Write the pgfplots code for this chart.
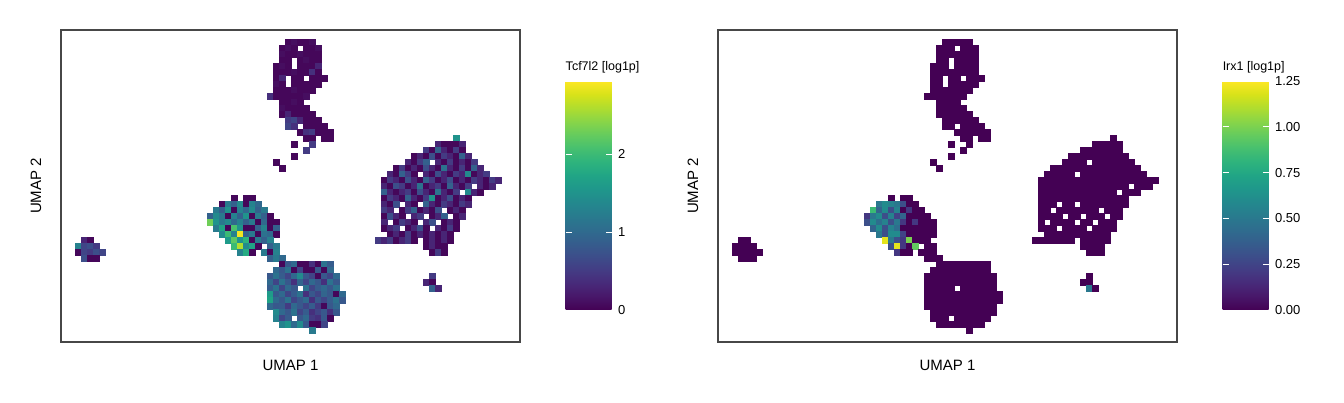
\documentclass[border=0pt]{standalone}
\usepackage{pgfplots}
\pgfplotsset{compat=1.18}
\usepackage{pgfplotstable}
\usepackage{fontspec}
\setmainfont{Liberation Sans}

\pgfplotstableread[row sep=\\]{
x y a b \\
288 42 .05 0 \\ 294 42 .1 0 \\ 300 42 .05 0 \\ 306 42 .05 0 \\ 312 42 .1 0 \\
282 48 .05 0 \\ 288 48 .1 0 \\ 294 48 .05 0 \\ 306 48 .05 0 \\ 312 48 .05 0 \\ 318 48 .1 0 \\
282 54 .1 0 \\ 288 54 .05 0 \\ 294 54 .05 0 \\ 300 54 .1 0 \\ 306 54 .05 0 \\ 312 54 .05 0 \\ 318 54 .05 0 \\
282 60 .05 0 \\ 288 60 .05 0 \\ 300 60 .05 0 \\ 306 60 .1 0 \\ 312 60 .05 0 \\ 318 60 .05 0 \\
276 66 .05 0 \\ 282 66 .1 0 \\ 288 66 .05 0 \\ 300 66 .05 0 \\ 306 66 .05 0 \\ 312 66 .05 0 \\ 318 66 .3 0 \\
276 72 .05 0 \\ 282 72 .05 0 \\ 288 72 .05 0 \\ 294 72 .1 0 \\ 300 72 .05 0 \\ 306 72 .05 0 \\ 312 72 .4 0 \\ 318 72 .05 0 \\
276 78 .05 0 \\ 282 78 .3 0 \\ 294 78 .05 0 \\ 300 78 .05 0 \\ 312 78 .05 0 \\ 318 78 .05 0 \\ 324 78 .05 0 \\
276 84 .1 0 \\ 282 84 .05 0 \\ 294 84 .05 0 \\ 300 84 .05 0 \\ 306 84 .05 0 \\ 312 84 .05 0 \\ 318 84 .05 0 \\
276 90 .05 0 \\ 282 90 .05 0 \\ 288 90 .05 0 \\ 294 90 .1 0 \\ 300 90 .05 0 \\ 306 90 .05 0 \\ 312 90 .05 0 \\
270 96 .4 0 \\ 276 96 .05 0 \\ 282 96 .05 0 \\ 288 96 .05 0 \\ 294 96 .05 0 \\ 300 96 .05 0 \\ 306 96 .1 0 \\
282 102 .05 0 \\ 288 102 .05 0 \\ 294 102 .1 0 \\ 300 102 .05 0 \\
282 108 .1 0 \\ 288 108 .05 0 \\ 294 108 .05 0 \\ 300 108 .05 0 \\ 306 108 .05 0 \\
282 114 .05 0 \\ 288 114 .3 0 \\ 294 114 .05 0 \\ 300 114 .05 0 \\ 306 114 .05 0 \\ 312 114 .05 0 \\
288 120 .5 0 \\ 294 120 .6 0 \\ 300 120 .3 0 \\ 306 120 .05 0 \\ 312 120 .05 0 \\ 318 120 .05 0 \\
288 126 .6 0 \\ 294 126 .4 0 \\ 306 126 .05 0 \\ 312 126 .05 0 \\ 318 126 .05 0 \\ 324 126 .05 0 \\
300 132 .05 0 \\ 306 132 .4 0 \\ 312 132 .5 0 \\ 318 132 .05 0 \\ 324 132 .05 0 \\ 330 132 .05 0 \\
306 138 .05 0 \\ 312 138 .05 0 \\ 324 138 .05 0 \\ 330 138 .05 0 \\
294 144 .05 0 \\ 312 144 .5 0 \\ 306 150 .5 0 \\ 294 156 .05 0 \\ 276 162 .05 0 \\ 282 168 .05 0 \\
456 138 1.5 0 \\
438 144 .3 0 \\ 444 144 .05 0 \\ 450 144 .05 0 \\ 456 144 .05 0 \\ 462 144 .3 0 \\
426 150 .5 0 \\ 432 150 .05 0 \\ 438 150 .9 0 \\ 444 150 .3 0 \\ 450 150 .05 0 \\ 456 150 .5 0 \\ 462 150 .05 0 \\
414 156 .05 0 \\ 420 156 .3 0 \\ 426 156 .05 0 \\ 432 156 .7 0 \\ 438 156 .05 0 \\ 444 156 .5 0 \\ 450 156 .3 0 \\ 456 156 .05 0 \\ 462 156 .9 0 \\ 468 156 .3 0 \\
408 162 .3 0 \\ 414 162 .05 0 \\ 420 162 .5 0 \\ 426 162 .9 0 \\ 438 162 .3 0 \\ 444 162 .05 0 \\ 450 162 .5 0 \\ 456 162 .05 0 \\ 462 162 .3 0 \\ 468 162 .05 0 \\ 474 162 .5 0 \\
396 168 .05 0 \\ 402 168 .5 0 \\ 408 168 .05 0 \\ 414 168 .3 0 \\ 420 168 .05 0 \\ 426 168 .7 0 \\ 432 168 .3 0 \\ 438 168 .05 0 \\ 444 168 1.1 0 \\ 450 168 .3 0 \\ 456 168 .05 0 \\ 462 168 .5 0 \\ 468 168 .05 0 \\ 474 168 .9 0 \\ 480 168 .3 0 \\
390 174 .3 0 \\ 396 174 .05 0 \\ 402 174 .9 0 \\ 408 174 .5 0 \\ 414 174 .05 0 \\ 426 174 .3 0 \\ 432 174 .05 0 \\ 438 174 .7 0 \\ 444 174 .3 0 \\ 450 174 .05 0 \\ 456 174 .5 0 \\ 462 174 .3 0 \\ 468 174 1.4 0 \\ 474 174 .05 0 \\ 480 174 .3 0 \\ 486 174 .5 0 \\
384 180 .05 0 \\ 390 180 .5 0 \\ 396 180 .3 0 \\ 402 180 .05 0 \\ 408 180 .7 0 \\ 414 180 .3 0 \\ 420 180 .05 0 \\ 426 180 .9 0 \\ 432 180 .5 0 \\ 438 180 .05 0 \\ 444 180 .3 0 \\ 450 180 .7 0 \\ 456 180 .05 0 \\ 462 180 .3 0 \\ 468 180 .05 0 \\ 474 180 .5 0 \\ 480 180 .3 0 \\ 486 180 .05 0 \\ 492 180 .5 0 \\ 498 180 .3 0 \\
384 186 .3 0 \\ 390 186 .05 0 \\ 396 186 .7 0 \\ 402 186 .5 0 \\ 408 186 .05 0 \\ 414 186 .3 0 \\ 420 186 1.1 0 \\ 426 186 .05 0 \\ 432 186 .3 0 \\ 438 186 .5 0 \\ 444 186 .05 0 \\ 450 186 .9 0 \\ 456 186 .3 0 \\ 462 186 .05 0 \\ 468 186 .5 0 \\ 480 186 .3 0 \\ 486 186 .05 0 \\ 492 186 .3 0 \\
384 192 .9 0 \\ 390 192 .3 0 \\ 396 192 .05 0 \\ 402 192 .3 0 \\ 408 192 .5 0 \\ 414 192 .05 0 \\ 420 192 .7 0 \\ 426 192 .3 0 \\ 432 192 .05 0 \\ 438 192 1.1 0 \\ 444 192 .3 0 \\ 450 192 .05 0 \\ 456 192 .5 0 \\ 468 192 1.4 0 \\ 474 192 .3 0 \\ 480 192 .05 0 \\
384 198 .05 0 \\ 390 198 .5 0 \\ 396 198 .3 0 \\ 402 198 .05 0 \\ 408 198 .9 0 \\ 414 198 .3 0 \\ 420 198 .05 0 \\ 426 198 .5 0 \\ 432 198 1.5 0 \\ 438 198 .05 0 \\ 444 198 .3 0 \\ 450 198 .7 0 \\ 456 198 .05 0 \\ 462 198 .3 0 \\ 468 198 .05 0 \\
384 204 .3 0 \\ 390 204 .05 0 \\ 396 204 .7 0 \\ 408 204 .3 0 \\ 414 204 .05 0 \\ 426 204 .9 0 \\ 432 204 .3 0 \\ 438 204 .05 0 \\ 444 204 .5 0 \\ 450 204 .3 0 \\ 456 204 .05 0 \\ 462 204 .5 0 \\ 468 204 .3 0 \\
384 210 .5 0 \\ 390 210 .3 0 \\ 402 210 .05 0 \\ 408 210 .5 0 \\ 414 210 .9 0 \\ 420 210 .05 0 \\ 426 210 .3 0 \\ 432 210 .05 0 \\ 438 210 .7 0 \\ 450 210 .05 0 \\ 456 210 .3 0 \\ 462 210 .05 0 \\
384 216 .05 0 \\ 390 216 .7 0 \\ 396 216 .3 0 \\ 402 216 .05 0 \\ 414 216 .3 0 \\ 420 216 .5 0 \\ 432 216 .05 0 \\ 438 216 .3 0 \\ 444 216 .9 0 \\ 456 216 .05 0 \\ 462 216 .3 0 \\
384 222 .3 0 \\ 396 222 .05 0 \\ 402 222 .5 0 \\ 408 222 .3 0 \\ 414 222 .05 0 \\ 426 222 .3 0 \\ 432 222 .7 0 \\ 444 222 .05 0 \\ 450 222 .3 0 \\ 456 222 .05 0 \\
384 228 .05 0 \\ 390 228 .3 0 \\ 396 228 .5 0 \\ 408 228 .05 0 \\ 414 228 .3 0 \\ 420 228 .7 0 \\ 426 228 .05 0 \\ 438 228 .3 0 \\ 444 228 .05 0 \\ 450 228 .5 0 \\ 456 228 .05 0 \\
390 234 .05 0 \\ 396 234 .3 0 \\ 402 234 .05 0 \\ 408 234 .5 0 \\ 414 234 .05 0 \\ 420 234 .3 0 \\ 426 234 .05 0 \\ 432 234 .3 0 \\ 438 234 .05 0 \\ 444 234 .3 0 \\ 450 234 .05 0 \\
378 240 .5 0 \\ 384 240 .3 0 \\ 390 240 .5 0 \\ 396 240 .05 0 \\ 402 240 .3 0 \\ 408 240 .5 0 \\ 414 240 .05 0 \\ 426 240 .05 0 \\ 432 240 .3 0 \\ 438 240 .05 0 \\ 444 240 .3 0 \\ 450 240 .05 0 \\
426 246 .05 0 \\ 432 246 .3 0 \\ 438 246 .05 0 \\ 444 246 .05 0 \\
432 252 .05 0 \\ 438 252 .5 0 \\ 444 252 .05 0 \\
432 276 .5 0 \\ 426 282 .3 0 \\ 432 282 .05 0 \\ 432 288 .9 .5 \\ 438 288 .3 0 \\
234 198 .05 0 \\ 246 198 .05 0 \\ 252 198 .05 0 \\
222 204 .05 .5 \\ 228 204 1.2 .6 \\ 234 204 .9 .55 \\ 240 204 1.4 .5 \\ 246 204 .05 .3 \\ 252 204 1.3 0 \\ 258 204 1.0 0 \\
216 210 1.2 .85 \\ 222 210 .9 .4 \\ 228 210 1.5 .6 \\ 234 210 .05 .3 \\ 240 210 1.3 .55 \\ 246 210 1.0 0 \\ 252 210 1.4 .2 \\ 258 210 .9 0 \\ 264 210 1.2 0 \\
210 216 .9 .2 \\ 216 216 1.4 .5 \\ 222 216 1.2 .6 \\ 228 216 .05 .3 \\ 234 216 1.3 .55 \\ 240 216 .9 .25 \\ 246 216 1.5 .4 \\ 252 216 .05 0 \\ 258 216 1.2 0 \\ 264 216 .9 0 \\ 270 216 .05 0 \\
210 222 2.3 .3 \\ 216 222 1.5 .6 \\ 222 222 1.2 .45 \\ 228 222 1.4 .55 \\ 234 222 1.0 .3 \\ 240 222 1.3 .5 \\ 246 222 .9 .2 \\ 252 222 1.2 0 \\ 258 222 .05 .2 \\ 264 222 1.0 0 \\ 270 222 .05 0 \\ 276 222 .05 0 \\
216 228 1.2 .4 \\ 222 228 1.7 .6 \\ 228 228 .05 .3 \\ 234 228 2.1 .55 \\ 240 228 1.5 .45 \\ 246 228 .05 0 \\ 252 228 .05 0 \\ 258 228 .9 0 \\ 264 228 1.3 0 \\ 270 228 .05 0 \\ 276 228 .9 0 \\
222 234 1.4 .5 \\ 228 234 2.0 .3 \\ 234 234 1.3 .6 \\ 240 234 2.9 .6 \\ 246 234 .9 .25 \\ 252 234 1.2 0 \\ 258 234 .05 0 \\ 264 234 1.1 0 \\ 270 234 1.0 0 \\ 276 234 .05 0 \\
228 240 1.6 1.2 \\ 234 240 2.2 .5 \\ 240 240 1.5 .3 \\ 246 240 1.9 .2 \\ 252 240 .05 1.0 \\ 258 240 1.2 0 \\ 264 240 .9 0 \\ 270 240 1.3 0 \\
234 246 2.0 .3 \\ 240 246 2.6 1.2 \\ 246 246 1.4 .2 \\ 252 246 1.7 0 \\ 258 246 .05 .95 \\ 270 246 .9 0 \\ 276 246 1.2 0 \\
240 252 1.3 .2 \\ 246 252 1.8 0 \\ 252 252 .05 0 \\ 264 252 1.2 0 \\ 270 252 .05 0 \\ 276 252 1.3 0 \\
270 258 .9 0 \\ 276 258 1.2 0 \\ 282 258 1.0 0 \\
282 264 .05 0 \\ 288 264 .8 0 \\ 294 264 1.0 0 \\ 300 264 .05 0 \\ 306 264 .05 0 \\ 312 264 .4 0 \\ 318 264 .05 0 \\ 324 264 1.1 0 \\ 330 264 .85 0 \\
276 270 1.0 0 \\ 282 270 .8 0 \\ 288 270 1.1 0 \\ 294 270 .05 0 \\ 300 270 .6 0 \\ 306 270 .05 0 \\ 312 270 .05 0 \\ 318 270 .8 0 \\ 324 270 .05 0 \\ 330 270 1.0 0 \\
270 276 .8 0 \\ 276 276 1.1 0 \\ 282 276 .85 0 \\ 288 276 .6 0 \\ 294 276 1.0 0 \\ 300 276 1.4 0 \\ 306 276 .8 0 \\ 312 276 .6 0 \\ 318 276 .05 0 \\ 324 276 .8 0 \\ 330 276 .6 0 \\ 336 276 1.0 0 \\
270 282 1.0 0 \\ 276 282 .6 0 \\ 282 282 1.1 0 \\ 288 282 .8 0 \\ 294 282 .4 0 \\ 300 282 .95 0 \\ 306 282 .6 0 \\ 312 282 1.0 0 \\ 318 282 .8 0 \\ 324 282 .4 0 \\ 330 282 1.1 0 \\ 336 282 .8 0 \\
270 288 .85 0 \\ 276 288 1.1 0 \\ 282 288 .6 0 \\ 288 288 1.0 0 \\ 294 288 .8 0 \\ 306 288 1.1 0 \\ 312 288 .6 0 \\ 318 288 .85 0 \\ 324 288 1.0 0 \\ 330 288 .8 0 \\ 336 288 1.1 0 \\
270 294 1.6 0 \\ 276 294 .8 0 \\ 282 294 1.0 0 \\ 288 294 .6 0 \\ 294 294 .85 0 \\ 300 294 1.1 0 \\ 306 294 .4 0 \\ 312 294 .8 0 \\ 318 294 .6 0 \\ 324 294 .95 0 \\ 330 294 .8 0 \\ 336 294 .05 0 \\ 342 294 1.0 0 \\
270 300 1.7 0 \\ 276 300 1.0 0 \\ 282 300 .8 0 \\ 288 300 1.1 0 \\ 294 300 .6 0 \\ 300 300 .8 0 \\ 306 300 1.0 0 \\ 312 300 .4 0 \\ 318 300 .8 0 \\ 324 300 .6 0 \\ 330 300 .85 0 \\ 336 300 1.1 0 \\ 342 300 .8 0 \\
270 306 1.0 0 \\ 276 306 .8 0 \\ 282 306 .85 0 \\ 288 306 .5 0 \\ 294 306 1.0 0 \\ 300 306 .8 0 \\ 306 306 .6 0 \\ 312 306 .85 0 \\ 318 306 .5 0 \\ 324 306 .05 0 \\ 330 306 .8 0 \\ 336 306 1.0 0 \\
276 312 1.4 0 \\ 282 312 1.0 0 \\ 288 312 .8 0 \\ 294 312 1.1 0 \\ 300 312 .6 0 \\ 306 312 .85 0 \\ 312 312 .4 0 \\ 318 312 .6 0 \\ 324 312 .8 0 \\ 330 312 .4 0 \\ 336 312 .8 0 \\
276 318 1.3 0 \\ 282 318 .6 0 \\ 288 318 .85 0 \\ 300 318 .8 0 \\ 306 318 1.0 0 \\ 312 318 .5 0 \\ 318 318 .4 0 \\ 324 318 .8 0 \\ 330 318 .05 0 \\
282 324 1.3 0 \\ 288 324 1.5 0 \\ 294 324 1.0 0 \\ 300 324 1.4 0 \\ 306 324 .8 0 \\ 312 324 .05 0 \\ 318 324 .05 0 \\ 324 324 .6 0 \\
312 330 1.2 0 \\
84 240 .3 0 \\ 90 240 .05 0 \\
78 246 1.3 0 \\ 84 246 .6 0 \\ 90 246 .7 0 \\ 96 246 .5 0 \\
78 252 .05 0 \\ 84 252 .6 0 \\ 90 252 .5 0 \\ 96 252 .7 0 \\ 102 252 .6 0 \\
84 258 .7 0 \\ 90 258 .05 0 \\ 96 258 .05 0 \\
}\cells

\pgfplotsset{
  /pgf/number format/assume math mode=true,
  umap/.style={
    scale only axis, width=459pt, height=312pt,
    xmin=61, xmax=520, ymin=30, ymax=342, y dir=reverse,
    xtick=\empty, ytick=\empty,
    axis line style={draw=black!72, line width=1.1pt},
    xlabel={UMAP 1}, ylabel={UMAP 2},
    label style={font=\fontsize{15}{17}\selectfont},
    xlabel style={at={(axis description cs:0.5,-0.074)}, anchor=center},
    ylabel style={at={(axis description cs:-0.0545,0.5)}, anchor=center},
    colormap name=viridis,
    colorbar,
    colorbar/width=46pt,
  },
  cbar/.style={
    scale only axis, height=229pt,
    at={(parent axis.south east)}, anchor=south west, xshift=37pt, yshift=32pt,
    y dir=normal,
    axis line style={draw=none},
    ytick pos=both, yticklabel pos=right,
    tick align=inside, major tick length=6pt,
    ytick style={draw=white, line width=0.9pt},
    yticklabel style={font=\fontsize{13}{15}\selectfont, xshift=3pt},
    title style={at={(0,1)}, anchor=south west, yshift=2pt, inner sep=0pt, font=\fontsize{12.5}{14}\selectfont},
  },
  cellmarks/.style={scatter, only marks, mark=square*, mark size=3pt,
    scatter/use mapped color={draw=mapped color, fill=mapped color},
    mark options={line width=0.2pt}},
}

\begin{document}
\begin{tikzpicture}
\useasboundingbox (0,0) rectangle (1344pt,403pt);
\begin{axis}[umap, at={(61pt,61pt)}, anchor=south west,
    point meta min=0, point meta max=2.94,
    colorbar style={cbar, ytick={0,1,2}, title={Tcf7l2 [log1p]}}]
  \addplot[cellmarks, point meta=\thisrow{a}] table[x=x, y=y] {\cells};
\end{axis}
\begin{axis}[umap, at={(718pt,61pt)}, anchor=south west,
    point meta min=0, point meta max=1.25,
    colorbar style={cbar, ytick={0,0.25,0.5,0.75,1,1.25}, title={Irx1 [log1p]},
      yticklabel style={/pgf/number format/.cd, fixed, fixed zerofill, precision=2}}]
  \addplot[cellmarks, point meta=\thisrow{b}] table[x=x, y=y] {\cells};
\end{axis}
\end{tikzpicture}
\end{document}
